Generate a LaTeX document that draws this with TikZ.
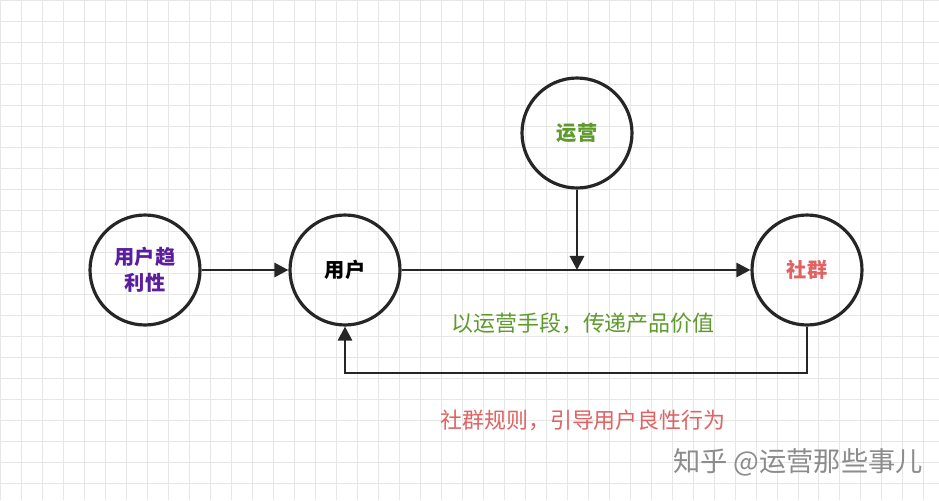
\documentclass[tikz,border=0pt]{standalone}
\usepackage{fontspec}
\usetikzlibrary{arrows.meta}
\newfontfamily\cjk{Noto Sans CJK SC}
\definecolor{gridc}{HTML}{E6E6E6}
\definecolor{purp}{HTML}{5A1E9E}
\definecolor{grn}{HTML}{5E9B2C}
\definecolor{redc}{HTML}{E06262}
\begin{document}
\begin{tikzpicture}[x=0.02cm,y=-0.02cm]
        \tikzset{circ/.style={draw=black!85,line width=1.8pt,circle,minimum size=2.2cm,inner sep=0pt,font=\cjk\bfseries\fontsize{11.5}{15}\selectfont,align=center},
          conn/.style={draw=black!85,line width=1.6pt},
          arr/.style={conn,-{Triangle[length=8pt,width=8pt]}}}
        \useasboundingbox (0,0) rectangle (939,500);
        \fill[white] (0,0) rectangle (939,500);
        \draw[gridc,step=0.42cm] (0,0) grid (939,500);
        \node[circ,text=purp] (trend) at (145,270) {用户趋\\利性};
        \node[circ] (user) at (345,270) {用户};
        \node[circ,text=grn] (ops) at (577,133) {运营};
        \node[circ,text=redc] (group) at (807,270) {社群};
        \draw[arr] (trend) -- (user);
        \draw[arr] (user) -- (group);
        \draw[arr] (ops) -- (ops |- user);
        \draw[arr] (group.south) |- (345,373) -- (user.south);
        \node[text=grn,font=\cjk\fontsize{12.5}{15}\selectfont] (valtext) at (583,323) {以运营手段，传递产品价值};
        \node[text=redc,font=\cjk\fontsize{12.5}{15}\selectfont] (ruletext) at (583,420) {社群规则，引导用户良性行为};
        \node[text=black!45,font=\cjk\fontsize{15.5}{18}\selectfont] (mark) at (798,462) {知乎 @运营那些事儿};
\end{tikzpicture}
\end{document}
